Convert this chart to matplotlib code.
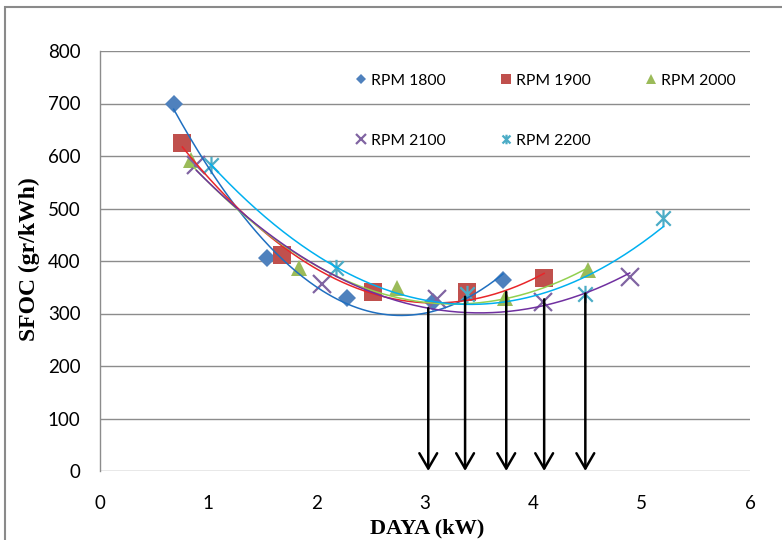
import numpy as np
import matplotlib
matplotlib.use("Agg")
import matplotlib.pyplot as plt
from matplotlib.path import Path
from matplotlib.patches import Rectangle

# ---------------- data ----------------
labels = ["RPM 1800", "RPM 1900", "RPM 2000", "RPM 2100", "RPM 2200"]
x_1800 = [0.68, 1.54, 2.28, 3.07, 3.72]
y_1800 = [700, 406, 329, 321, 364]
x_1900 = [0.76, 1.68, 2.52, 3.385, 4.10]
y_1900 = [625, 411, 341, 341, 367]
x_2000 = [0.84, 1.84, 2.745, 3.74, 4.50]
y_2000 = [592, 387, 348, 329, 383]
x_2100 = [0.89, 2.05, 3.11, 4.09, 4.89]
y_2100 = [583, 356, 327, 322, 369]
x_2200 = [1.02, 2.18, 3.385, 4.48, 5.20]
y_2200 = [583, 386, 338, 338, 481]
arrow_x = [3.03, 3.37, 3.75, 4.10, 4.48]
arrow_top = [310, 332, 341, 327, 338]
xticks = [0, 1, 2, 3, 4, 5, 6]
yticks = [0, 100, 200, 300, 400, 500, 600, 700, 800]

xs = [x_1800, x_1900, x_2000, x_2100, x_2200]
ys = [y_1800, y_1900, y_2000, y_2100, y_2200]

# ---------------- style ----------------
marker_colors = ["#4F81BD", "#C0504D", "#9BBB59", "#8064A2", "#4BACC6"]
trend_colors = ["#1F6FC0", "#E8262A", "#92D050", "#7030A0", "#00B0F0"]

star_path = Path(
    [(-0.5, -0.5), (0.5, 0.5), (-0.5, 0.5), (0.5, -0.5), (0, -0.6), (0, 0.6)],
    [Path.MOVETO, Path.LINETO, Path.MOVETO, Path.LINETO, Path.MOVETO, Path.LINETO])

markers = ["D", "s", "^", "x", star_path]
msizes = [9.0, 12.5, 12.0, 12.5, 12.5]

plt.rcParams['font.family'] = ['Lato', 'DejaVu Sans']

fig = plt.figure(figsize=(7.82, 5.40), dpi=100)
ax = fig.add_axes([100 / 782, 1 - 471 / 540, 650 / 782, 420 / 540])

grid_c = "#8C8C8C"
for yv in yticks:
    ax.axhline(yv, color=grid_c, lw=1.0, zorder=1)

handles = []
for i in range(5):
    xa = np.array(xs[i], dtype=float)
    ya = np.array(ys[i], dtype=float)
    coef = np.polyfit(xa, ya, 2)
    xx = np.linspace(xa.min(), xa.max(), 200)
    ax.plot(xx, np.polyval(coef, xx), color=trend_colors[i], lw=1.1, zorder=4)
    if i in (3, 4):
        h, = ax.plot(xa, ya, linestyle="none", marker=markers[i], ms=msizes[i],
                     color=marker_colors[i], mec=marker_colors[i], mew=1.6,
                     label=labels[i], zorder=3)
    else:
        h, = ax.plot(xa, ya, linestyle="none", marker=markers[i], ms=msizes[i],
                     color=marker_colors[i], mec=marker_colors[i], mew=0,
                     label=labels[i], zorder=3)
    handles.append(h)

for xa, yt in zip(arrow_x, arrow_top):
    ax.annotate("", xy=(xa, 0), xytext=(xa, yt),
                arrowprops=dict(arrowstyle="->,head_length=0.55,head_width=0.32",
                                lw=1.8, color="black", shrinkA=0, shrinkB=0,
                                mutation_scale=20),
                zorder=6, annotation_clip=False)

ax.set_xlim(0, 6)
ax.set_ylim(0, 800)
ax.set_xticks(xticks)
ax.set_yticks(yticks)
ax.tick_params(length=0, labelsize=13.5, colors="#000000")
ax.tick_params(axis="y", pad=14)
ax.tick_params(axis="x", pad=17)
for s in ["top", "right", "bottom"]:
    ax.spines[s].set_visible(False)
ax.spines["left"].set_color(grid_c)
ax.spines["left"].set_linewidth(1.0)

ax.set_xlabel("DAYA (kW)", family="Liberation Serif", fontweight="bold",
              fontsize=16)
ax.set_ylabel("SFOC (gr/kWh)", family="Liberation Serif", fontweight="bold",
              fontsize=17)
ax.xaxis.set_label_coords(0.503, -0.112)
ax.yaxis.set_label_coords(-0.092, 0.505)

# legend filled row-wise (matplotlib fills column-wise)
order = [0, 3, 1, 4, 2]
leg = ax.legend([handles[k] for k in order], [labels[k] for k in order],
                ncol=3, loc="upper left", bbox_to_anchor=(0.395, 0.946),
                frameon=False, fontsize=11.3, markerscale=0.55,
                handlelength=0.6, handletextpad=0.3, columnspacing=3.57,
                labelspacing=2.93, borderpad=0, borderaxespad=0)

fig.patches.append(Rectangle((5 / 782, -0.1), 2, 1 - 7 / 540 + 0.1,
                             transform=fig.transFigure, fill=False,
                             edgecolor="#8A8A8A", lw=1.5))

fig.savefig("out.png", dpi=100)
